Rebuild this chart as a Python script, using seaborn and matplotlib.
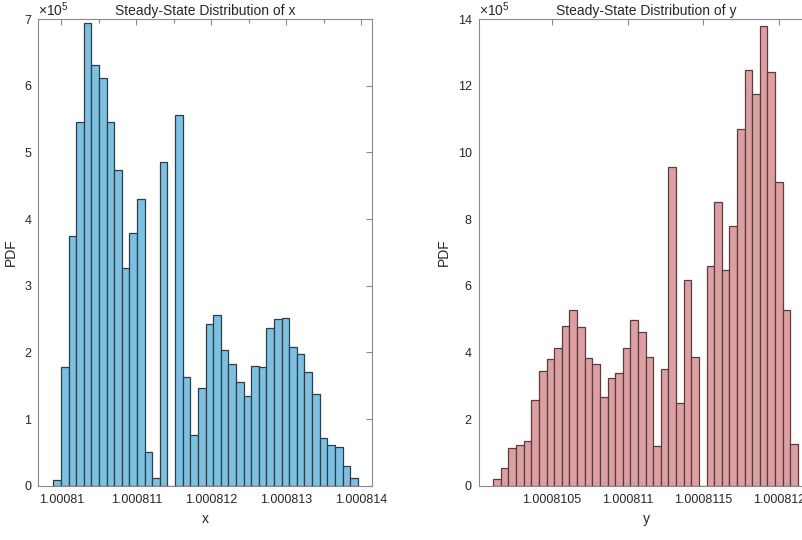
import numpy as np
import pandas as pd
import matplotlib
matplotlib.use("Agg")
import matplotlib.pyplot as plt
import matplotlib.ticker as mticker
import seaborn as sns

# Histogram densities (units of 1e5), 40 bins each
x_start = 1.000809893
x_width = 0.1015e-6
x_pdf = [0.08, 1.78, 3.75, 5.46, 6.94, 6.31, 6.12, 5.46, 4.73, 3.27,
         3.79, 4.30, 0.51, 0.11, 4.85, 0.00, 5.56, 1.63, 0.76, 1.47,
         2.43, 2.56, 2.03, 1.83, 1.55, 1.35, 1.80, 1.78, 2.36, 2.50,
         2.52, 2.08, 1.97, 1.70, 1.38, 0.72, 0.61, 0.58, 0.30, 0.11]

y_start = 1.000810115
y_width = 0.0502e-6
y_pdf = [0.19, 0.53, 1.14, 1.23, 1.35, 2.57, 3.45, 3.80, 4.14, 4.80,
         5.27, 4.75, 3.84, 3.65, 2.65, 3.24, 3.39, 4.14, 4.96, 4.62,
         3.85, 1.20, 3.50, 9.55, 2.48, 6.17, 3.85, 0.00, 6.58, 8.52,
         6.46, 7.79, 10.69, 12.46, 11.74, 13.78, 12.41, 9.12, 5.26, 1.26]

x_ticks = [1.000810, 1.000811, 1.000812, 1.000813, 1.000814]
x_ticklabels = ["1.00081", "1.000811", "1.000812", "1.000813", "1.000814"]
x_minor = [1.0008105, 1.0008115, 1.0008125, 1.0008135]
y_ticks = [1.0008105, 1.000811, 1.0008115, 1.000812]
y_ticklabels = ["1.0008105", "1.000811", "1.0008115", "1.000812"]

BLUE = "#7EC0E0"
BLUE_EDGE = "#2c3e4b"
RED = "#DDA0A2"
RED_EDGE = "#5a3c3e"
AXIS = "#8a8a8a"
TEXT = "#262626"

sns.set_theme(style="white")
plt.rcParams["font.family"] = ["Liberation Sans", "DejaVu Sans"]
plt.rcParams["mathtext.fontset"] = "custom"
plt.rcParams["mathtext.rm"] = "Liberation Sans"
plt.rcParams["mathtext.it"] = "Liberation Sans"


def draw_hist(ax, start, width, pdf, color, edge):
    n = len(pdf)
    centers = start + width * (np.arange(n) + 0.5)
    df = pd.DataFrame({"value": centers, "pdf": pdf})
    sns.histplot(data=df, x="value", weights="pdf", bins=n,
                 binrange=(start, start + width * n), stat="count", ax=ax,
                 color=color, edgecolor=edge, linewidth=0.9, alpha=1.0)


def style_axes(ax, title, xlabel, ymax, ystep):
    ax.set_ylim(0, ymax)
    ax.yaxis.set_major_locator(mticker.MultipleLocator(ystep))
    ax.yaxis.set_major_formatter(mticker.FormatStrFormatter("%d"))
    for s in ax.spines.values():
        s.set_visible(True)
        s.set_color(AXIS)
        s.set_linewidth(0.8)
    ax.tick_params(which="both", direction="in", top=True, right=True,
                   color=AXIS, width=0.8, labelsize=9, labelcolor=TEXT)
    ax.tick_params(axis="x", pad=6)
    ax.tick_params(axis="y", pad=5)
    ax.tick_params(which="major", length=4)
    ax.tick_params(which="minor", length=3)
    ax.set_title(title, fontsize=10, color=TEXT, pad=3)
    ax.set_xlabel(xlabel, fontsize=10, color=TEXT, labelpad=4)
    ax.set_ylabel("PDF", fontsize=10, color=TEXT, labelpad=5)
    ax.text(0.0, 1.0, r"$\times10^{5}$", transform=ax.transAxes, ha="left",
            va="bottom", fontsize=10, color=TEXT)


fig = plt.figure(figsize=(8.03, 5.40), dpi=100)
ax1 = fig.add_axes([0.0477, 0.1006, 0.4159, 0.8642])
ax2 = fig.add_axes([0.5961, 0.1006, 0.4167, 0.8642])

draw_hist(ax1, x_start, x_width, x_pdf, BLUE, BLUE_EDGE)
ax1.set_xlim(1.0008096933, 1.000814147)
ax1.xaxis.set_major_locator(mticker.FixedLocator(x_ticks))
ax1.xaxis.set_major_formatter(mticker.FixedFormatter(x_ticklabels))
ax1.xaxis.set_minor_locator(mticker.FixedLocator(x_minor))
style_axes(ax1, "Steady-State Distribution of x", "x", 7, 1)

draw_hist(ax2, y_start, y_width, y_pdf, RED, RED_EDGE)
ax2.set_xlim(1.000810019, 1.000812224)
ax2.xaxis.set_major_locator(mticker.FixedLocator(y_ticks))
ax2.xaxis.set_major_formatter(mticker.FixedFormatter(y_ticklabels))
style_axes(ax2, "Steady-State Distribution of y", "y", 14, 2)

fig.savefig("out.png", dpi=100)
